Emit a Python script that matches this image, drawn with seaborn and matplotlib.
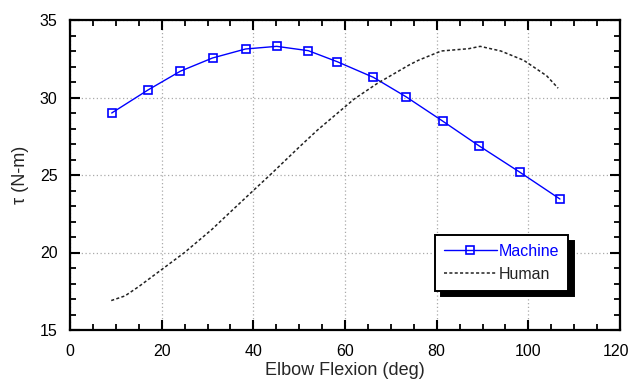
import matplotlib
matplotlib.use("Agg")
import matplotlib.pyplot as plt
import matplotlib.transforms as mtransforms
import seaborn as sns
import pandas as pd
from matplotlib.ticker import MultipleLocator

machine_x = [9.1, 17.1, 24.1, 31.1, 38.3, 45.1, 52.0, 58.3, 66.2, 73.3, 81.3, 89.2, 98.2, 106.9]
machine_y = [29.0, 30.5, 31.7, 32.55, 33.13, 33.3, 33.02, 32.31, 31.3, 30.05, 28.48, 26.89, 25.17, 23.45]

human_x = [9, 12, 15, 20, 25, 31, 33.5, 40, 44, 50, 54, 59.6, 62, 67, 74, 76, 81, 87, 89.5, 94, 99, 101, 104, 106.5]
human_y = [16.9, 17.2, 17.8, 18.9, 20.0, 21.5, 22.2, 24.0, 25.1, 26.8, 27.9, 29.3, 29.9, 30.9, 32.1, 32.4, 33.0, 33.15, 33.3, 33.0, 32.4, 32.0, 31.4, 30.6]

x_ticks = [0, 20, 40, 60, 80, 100, 120]
y_ticks = [15, 20, 25, 30, 35]

sns.set_style("ticks")
plt.rcParams["font.family"] = ["Liberation Sans", "DejaVu Sans"]

fig = plt.figure(figsize=(6.32, 3.89), dpi=100)
ax = fig.add_axes([70/632, 1-330/389, 550/632, 310/389])

dm = pd.DataFrame({"x": machine_x, "y": machine_y})
dh = pd.DataFrame({"x": human_x, "y": human_y})

sns.lineplot(data=dm, x="x", y="y", ax=ax, color="#0000ff", linewidth=1.0,
             marker="s", markersize=6, markerfacecolor="none",
             markeredgecolor="#0000ff", markeredgewidth=1.2, label="Machine",
             sort=False, estimator=None)
sns.lineplot(data=dh, x="x", y="y", ax=ax, color="#222222", linewidth=1.1,
             linestyle=(0, (2, 1.5)), label="Human", sort=False, estimator=None)

ax.set_xlim(0, 120)
ax.set_ylim(15, 35)
ax.set_xticks(x_ticks)
ax.set_yticks(y_ticks)
ax.xaxis.set_minor_locator(MultipleLocator(5))
ax.yaxis.set_minor_locator(MultipleLocator(1))
ax.tick_params(which="both", direction="in", top=True, right=True, labelsize=11.5, colors="black")
ax.tick_params(axis="x", which="major", pad=10)
ax.tick_params(axis="y", which="major", pad=9)
ax.tick_params(which="major", length=7, width=1.5)
ax.tick_params(which="minor", length=4, width=1.3)
for s in ax.spines.values():
    s.set_linewidth(1.6)
    s.set_color("black")
ax.grid(True, which="major", linestyle=(0, (1, 2)), color="#aaaaaa", linewidth=0.9)

# keep the last x tick label inside the canvas
last = ax.get_xticklabels()[-1]
last.set_transform(last.get_transform() + mtransforms.ScaledTranslation(-4/100, 0, fig.dpi_scale_trans))

ax.set_xlabel("Elbow Flexion (deg)", fontsize=13, labelpad=2)
ax.set_ylabel("τ (N-m)", fontsize=13, labelpad=8)

leg = ax.legend(loc="upper left", bbox_to_anchor=(0.664, 0.306),
                fancybox=False, framealpha=1, edgecolor="black",
                shadow={"color": "black", "alpha": 1, "ox": 4, "oy": -4},
                handlelength=3.3, handletextpad=0.15, fontsize=11.5, borderpad=0.55,
                labelspacing=0.5, borderaxespad=0)
leg.get_frame().set_linewidth(1.4)
for t, c in zip(leg.get_texts(), ["#0000ff", "#222222"]):
    t.set_color(c)

fig.savefig("out.png", dpi=100)
